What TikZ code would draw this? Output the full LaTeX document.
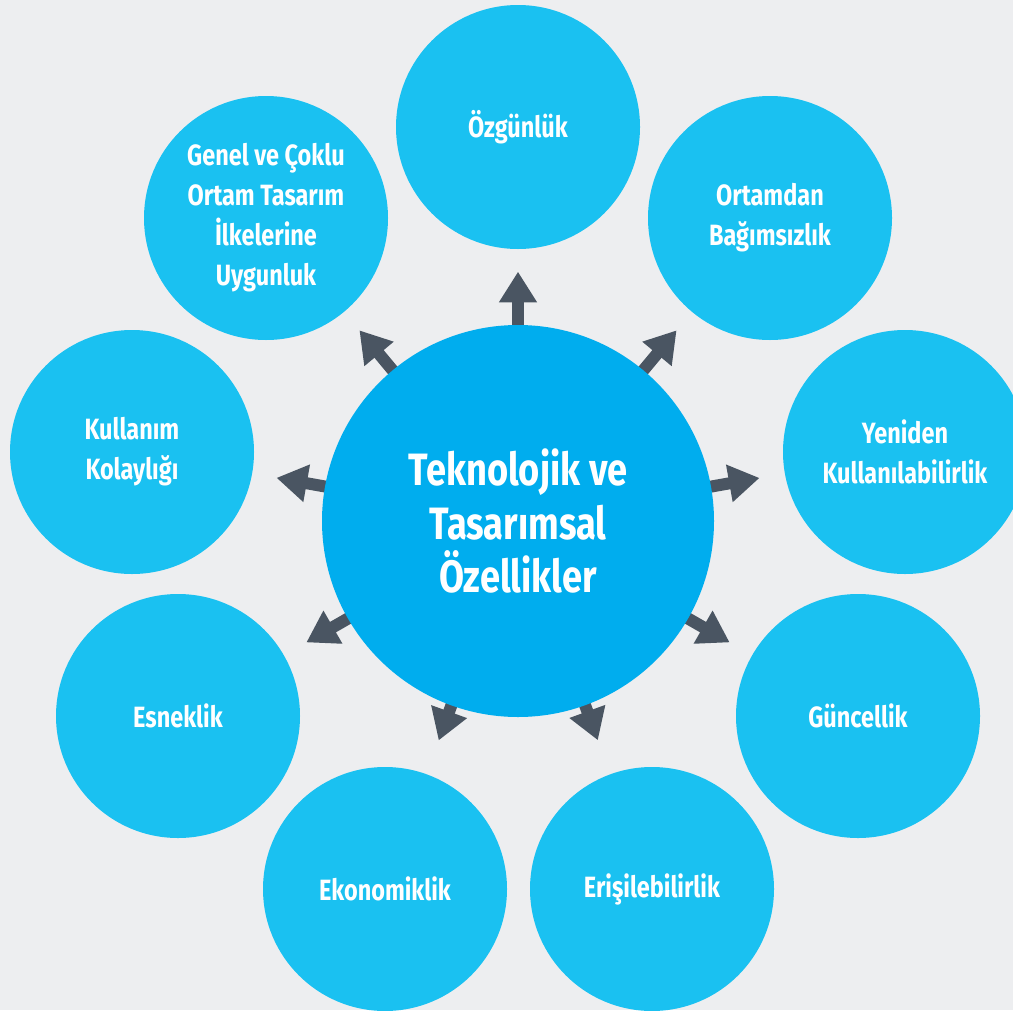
\documentclass[tikz,border=0pt]{standalone}
\usepackage{fontspec}
\setmainfont{Fira Sans}[FakeStretch=0.8]
\usetikzlibrary{arrows.meta,calc}
\definecolor{bgGray}{RGB}{237,238,240}
\definecolor{ringBlue}{RGB}{26,193,241}
\definecolor{coreBlue}{RGB}{0,173,238}
\definecolor{arrowGray}{RGB}{74,85,98}
\tikzset{every picture/.style={line width=0.75pt}}
\tikzset{
  outer/.style={circle,fill=ringBlue,minimum size=183pt,inner sep=0pt,text=white,align=center,font=\bfseries\fontsize{22}{30}\selectfont},
  core/.style={circle,fill=coreBlue,minimum size=294pt,inner sep=0pt,text=white,align=center,font=\bfseries\fontsize{34}{40}\selectfont},
  pointer/.style={draw=arrowGray,line width=9pt,-{Triangle[width=27pt,length=23pt]}}
}
\begin{document}
\begin{tikzpicture}[x=0.75pt,y=0.75pt,yscale=-1,xscale=1]
	%Background
	\fill [bgGray] (0,0) rectangle (1013,1010);
	\useasboundingbox (0,0) rectangle (1013,1010);

	%Outer circles
	\node [outer] (ozgun) at (518,127) {Özgünlük};
	\node [outer] (ortam) at (770,218) {Ortamdan\\Bağımsızlık};
	\node [outer] (yeniden) at (905,452) {Yeniden\\Kullanılabilirlik};
	\node [outer] (guncel) at (858,716) {Güncellik};
	\node [outer] (erisim) at (652,889) {Erişilebilirlik};
	\node [outer] (ekonomi) at (385,889) {Ekonomiklik};
	\node [outer] (esnek) at (178,716) {Esneklik};
	\node [outer] (kolay) at (132,452) {Kullanım\\Kolaylığı};
	\node [outer] (genel) at (266,218) {Genel ve Çoklu\\Ortam Tasarım\\İlkelerine\\Uygunluk};

	%Arrows
	\coordinate (mid) at (518,521);
	\foreach \target/\reach in {ozgun/187,ortam/186,yeniden/184,guncel/183,erisim/175,ekonomi/175,esnek/183,kolay/184,genel/186}
		\draw [pointer] ($(mid)!140pt!(\target)$) -- ($(mid)!\reach pt!(\target)$);

	%Center circle
	\node [core] (main) at (mid) {Teknolojik ve\\Tasarımsal\\Özellikler};
\end{tikzpicture}
\end{document}
